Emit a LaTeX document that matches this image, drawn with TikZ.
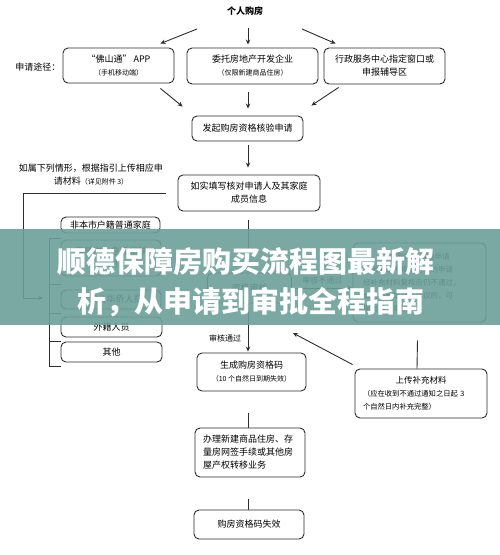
\documentclass[tikz,border=0pt]{standalone}
\usepackage{fontspec}
\setmainfont{Noto Sans CJK SC}
\usetikzlibrary{arrows.meta, calc, positioning}

\definecolor{linegray}{RGB}{45,45,45}
\definecolor{bannerteal}{RGB}{108,160,153}

\tikzset{
  flowbox/.style={draw=linegray, rounded corners=5pt, line width=0.9pt, inner sep=0pt,
    align=center, font=\fontsize{9}{13}\selectfont},
  arr/.style={draw=linegray, line width=0.9pt, -{Stealth[length=5pt, width=4.5pt]}},
  link/.style={draw=linegray, line width=0.9pt},
  plain/.style={inner sep=0pt, align=center, font=\fontsize{9}{13}\selectfont}
}
\newcommand{\sub}[1]{{\fontsize{7}{13}\selectfont #1}}

\begin{document}
\begin{tikzpicture}[x=1pt, y=-1pt]
    \useasboundingbox (0,0) rectangle (500,555);
    \fill[white] (0,0) rectangle (500,555);
    \coordinate (col) at (248,0);

    % --- 申请途径 ---
    \node[plain, font=\fontsize{9}{13}\selectfont\bfseries] (top) at (245,11) {个人购房};
    \node[plain] (way) at (38,67) {申请途径：};
    \node[flowbox, minimum width=111, minimum height=35] (app) at (118.5,65.5)
        {“佛山通” APP\\\sub{（手机移动端）}};
    \node[flowbox, minimum width=131, minimum height=36] (dev) at (252.5,66)
        {委托房地产开发企业\\\sub{（仅限新建商品住房）}};
    \node[flowbox, minimum width=121, minimum height=36] (hall) at (384.5,66)
        {行政服务中心指定窗口或\\申报辅导区};

    \draw[arr] ($(top)+(-48,18)$) -- ($(app.north east)+(-14,-4)$);
    \draw[arr] ($(col |- top)+(0,17)$) -- ($(col |- dev.north)+(0,-3)$);
    \draw[arr] ($(top)+(57,18)$) -- ($(hall.north west)+(12,-4)$);

    % --- 发起申请 ---
    \node[flowbox, minimum width=111, minimum height=25] (launch) at (247.5,128.5)
        {发起购房资格核验申请};
    \draw[arr] ($(app.south east)+(-14,5)$) -- ($(launch.north west)+(-9,-9)$);
    \draw[arr] ($(col |- dev.south)+(0,8)$) -- ($(col |- launch.north)+(0,-7)$);
    \draw[arr] ($(hall.south west)+(15,3)$) -- ($(launch.north east)+(8,-10)$);

    \node[flowbox, minimum width=142, minimum height=36] (fill) at (249,193)
        {如实填写核对申请人及其家庭\\成员信息};
    \draw[arr] ($(col |- launch.south)+(0,4)$) -- ($(col |- fill.north)+(0,-7)$);

    % --- 上传材料情形 ---
    \node[plain] (note) at (91,175) {如属下列情形，根据指引上传相应申\\请材料\sub{（详见附件 3）}};
    \coordinate (noteend) at (166,193);
    \coordinate (notetip) at (43,298);
    \draw[arr] (noteend) -- ++(-143,0) |- (notetip);

    \node[flowbox, minimum width=99, minimum height=16] (nonlocal) at (110.5,225) {非本市户籍普通家庭};
    \node[flowbox, minimum width=100, minimum height=36] (talent) at (111,258) {高层次及急需紧缺\\人才};
    \node[flowbox, minimum width=100, minimum height=19] (overseas) at (111,299.5) {港澳台华侨人员};
    \node[flowbox, minimum width=101, minimum height=20] (foreign) at (111.5,327) {外籍人员};
    \node[flowbox, minimum width=101, minimum height=20] (other) at (111.5,352) {其他};
    \draw[link] (61,238) -- (49,238) -- (49,366) -- (61,366);
    \foreach \y in {284,313,341}
        \draw[link] (49,\y) -- (61,\y);

    % --- 审核 ---
    \node[flowbox, minimum width=84, minimum height=30] (audit) at (249.5,288) {资格审核};
    \draw[arr] ($(col |- fill.south)+(0,9)$) -- (col |- audit.north);

    \node[flowbox, minimum width=133, minimum height=79, text width=113, align=left,
        font=\fontsize{7.5}{13}\selectfont] (redo) at (419.5,282.5)
        {\makebox[\hsize]{重新提交核验申请}\\（因未上传相应材料的申请\\经补充材料复核后仍不通过，\\或对核验结果有异议的，可\\提出异议申请）};
    \draw[arr] (audit.east) -- node[above=3pt, plain, font=\fontsize{8}{10}\selectfont] (fail) {审核不通过} (audit.east -| redo.west);

    \node[flowbox, minimum width=109, minimum height=38] (code) at (251.5,372)
        {生成购房资格码\\\sub{（10 个自然日到期失效）}};
    \draw[arr] (col |- audit.south) -- ($(col |- code.north)+(0,-1)$);
    \node[plain, font=\fontsize{8}{10}\selectfont] (pass) at (225,338) {审核通过};

    % --- 补充材料 ---
    \node[flowbox, minimum width=132, minimum height=49, text width=116, align=left,
        font=\fontsize{7.3}{13}\selectfont] (upload) at (421,393.5)
        {\makebox[\hsize]{\fontsize{8.5}{13}\selectfont 上传补充材料}\\（应在收到不通过通知之日起 3\\个自然日内补充完整）};
    \draw[link] ($(redo.south)+(-2,18)$) -- ($(upload.north)+(-4,0)$);
    \coordinate (retry) at (293,333);
    \draw[arr] ($(upload.north west)+(-2,-4)$) -- (retry);

    % --- 办理与失效 ---
    \node[flowbox, minimum width=110, minimum height=49, text width=94, align=left] (deal) at (250,452.5)
        {办理新建商品住房、存\\量房网签手续或其他房\\屋产权转移业务};
    \draw[link] ($(col |- code.south)+(0,22)$) -- (col |- deal.north);
    \node[flowbox, minimum width=110, minimum height=29] (void) at (249,524.5) {购房资格码失效};
    \draw[link] ($(col |- deal.south)+(0,22)$) -- (col |- void.north);

    % --- 标题横幅 ---
    \fill[bannerteal, fill opacity=0.9] (0,229) rectangle (500,325);
    \node[plain, text=white, font=\fontsize{29}{34}\selectfont\bfseries] (title1) at (246,262) {顺德保障房购买流程图最新解};
    \node[plain, text=white, font=\fontsize{29}{34}\selectfont\bfseries] (title2) at (251,302) {析，从申请到审批全程指南};
\end{tikzpicture}
\end{document}
